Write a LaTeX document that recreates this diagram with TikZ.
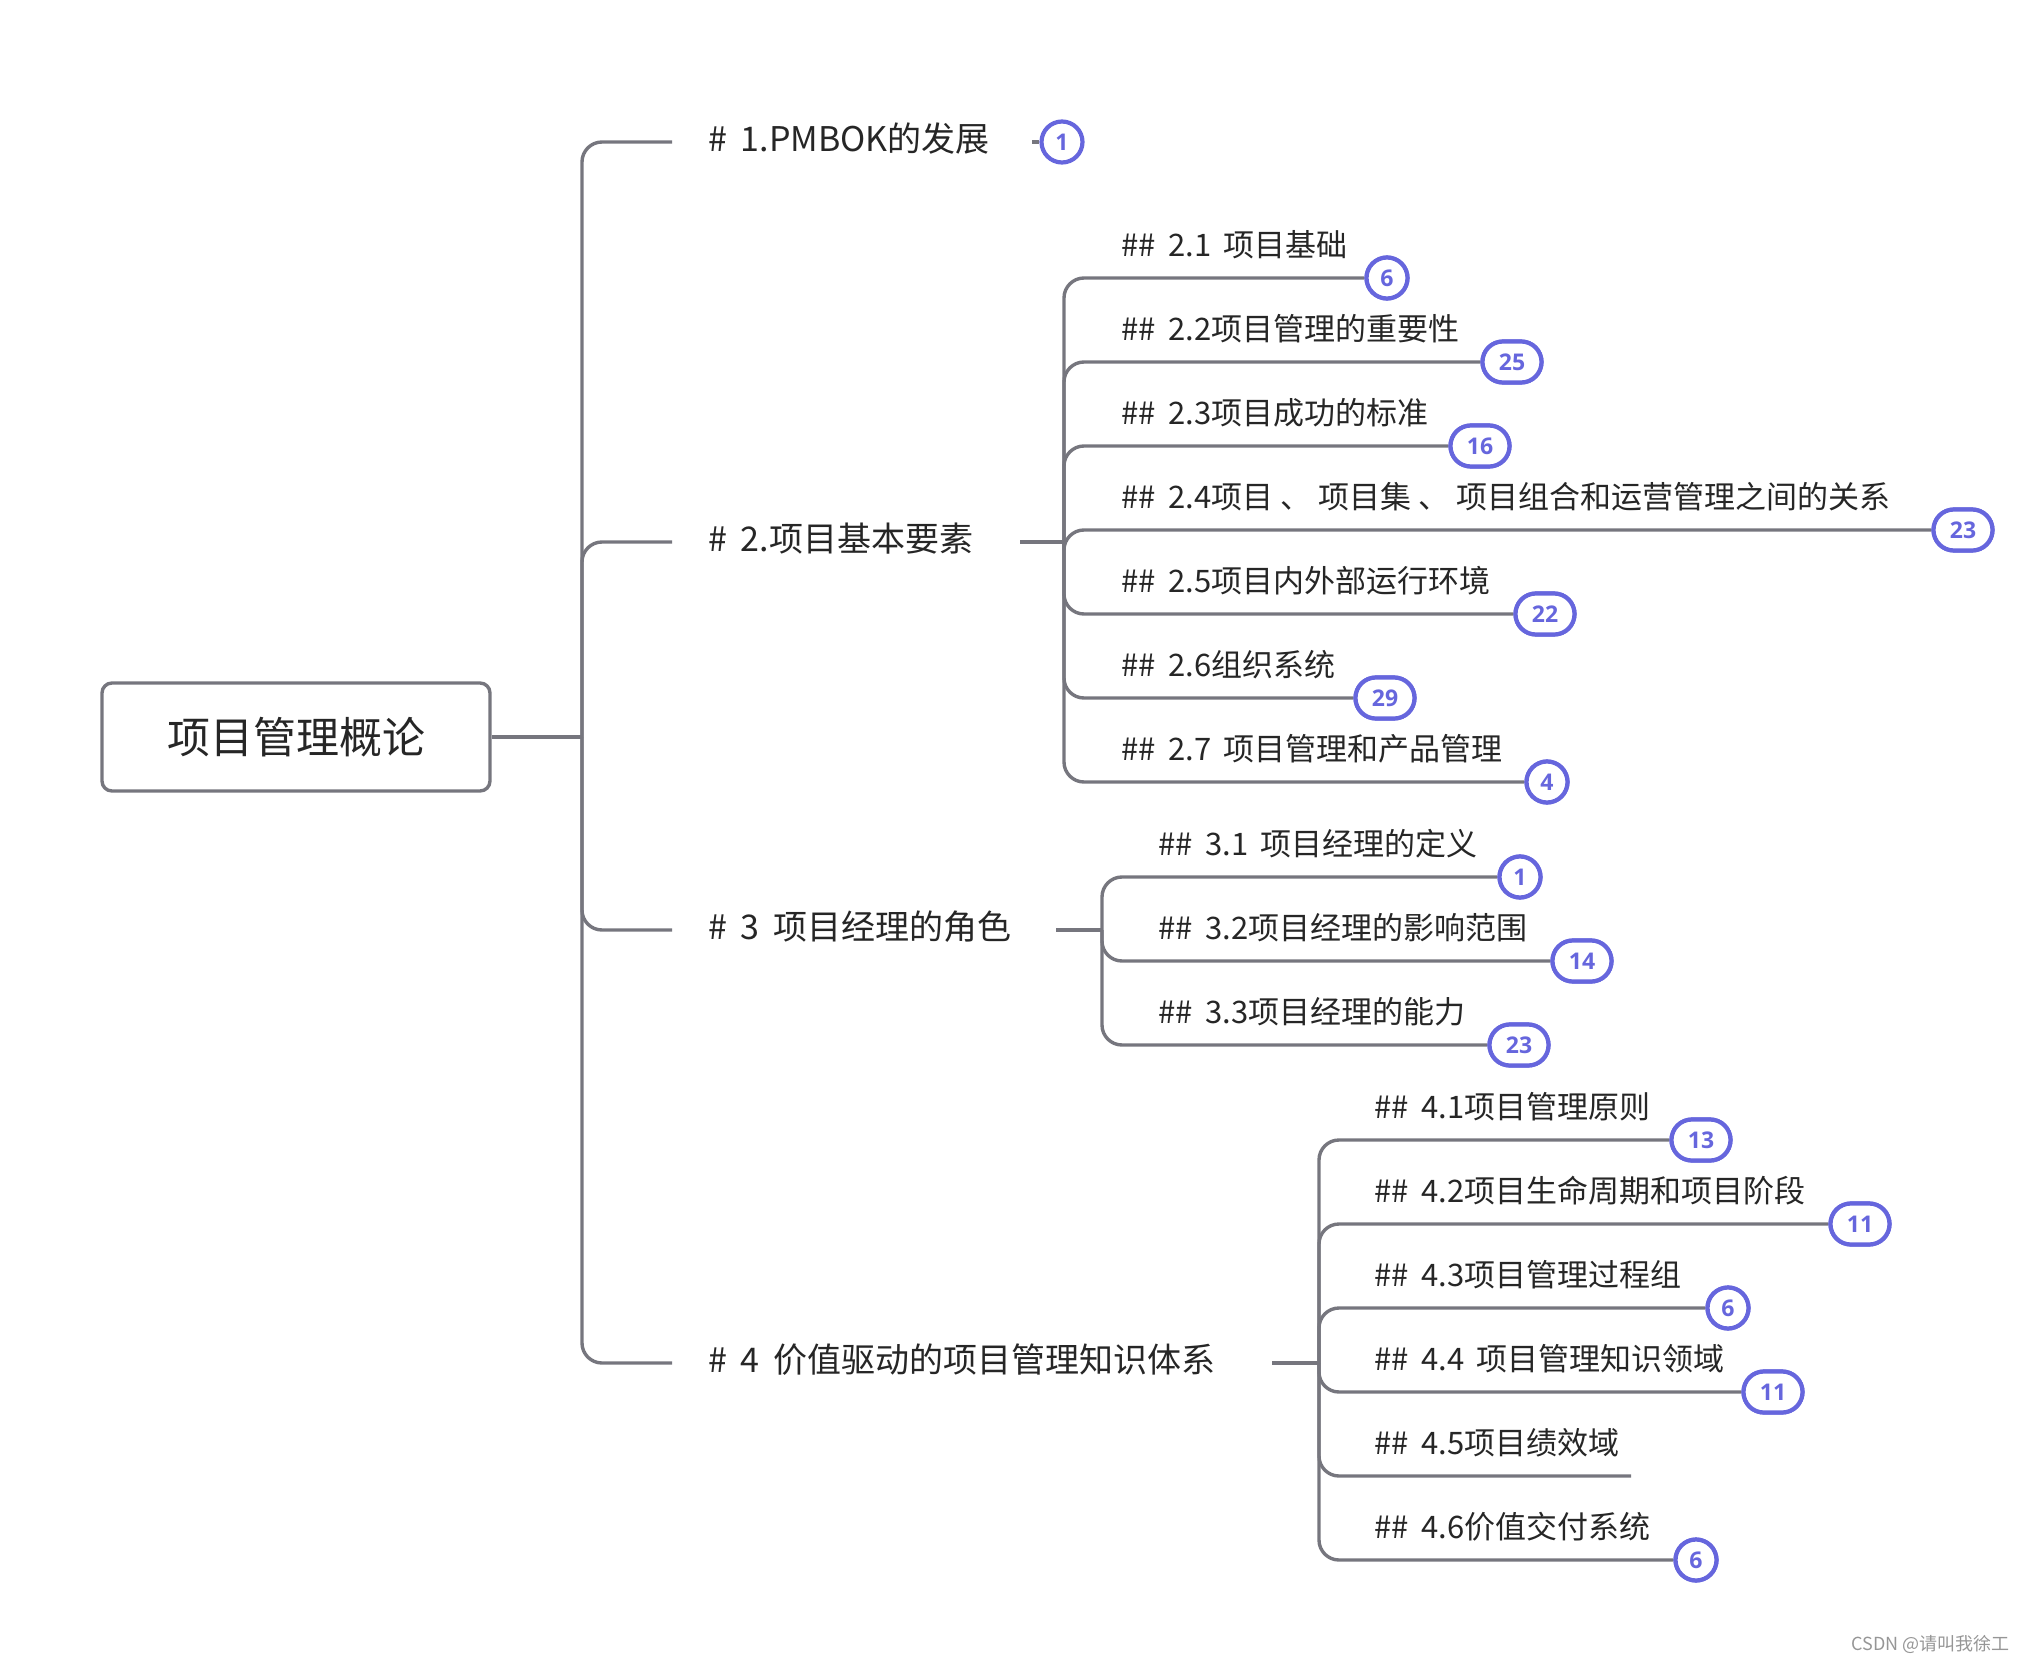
\documentclass[tikz,border=0pt]{standalone}
\usepackage{fontspec}
\setmainfont{Noto Sans CJK SC}
\newfontfamily\numfont{Open Sans}
\newcommand{\gapx}{\hspace{0.4em}}
\definecolor{ln}{RGB}{118,118,126}
\definecolor{bd}{RGB}{102,102,221}
\definecolor{tx}{RGB}{38,38,38}
\definecolor{wm}{RGB}{150,150,150}
\tikzset{
  conn/.style={draw=ln, line width=1.7pt, rounded corners=10pt},
  badge/.style={draw=bd, line width=2.1pt, fill=white, text=bd, inner sep=0pt,
    font=\numfont\bfseries\fontsize{11.5}{12}\selectfont},
  bcirc/.style={badge, circle, minimum size=20.5pt},
  boval/.style={badge, rectangle, rounded corners=10.2pt, minimum width=29.5pt, minimum height=20.5pt},
  lone/.style={anchor=west, inner sep=0pt, text=tx, font=\fontsize{17}{20}\selectfont},
  ltwo/.style={anchor=west, inner sep=0pt, text=tx, font=\fontsize{15.5}{18}\selectfont},
  rootbox/.style={draw=ln, line width=1.7pt, rounded corners=5pt, minimum width=194pt,
    minimum height=54pt, text=tx, font=\fontsize{21.5}{24}\selectfont}
}
\begin{document}
\begin{tikzpicture}[x=0.5pt,y=-0.5pt]
\useasboundingbox (0,0) rectangle (2025,1664);
% root
\node[rootbox] (root) at (296,737) {项目管理概论};
\coordinate (T) at (582,737);
\draw[conn] (root.east) -- (T);
% level-1 branch ends
\coordinate (a1) at (672,142);
\coordinate (a2) at (672,542);
\coordinate (a3) at (672,930);
\coordinate (a4) at (672,1363);
\foreach \c in {a1,a2,a3,a4} \draw[conn] (T) |- (\c);
% level-1 texts
\node[lone] (t1) at (708,139) {\#\gapx 1.PMBOK的发展};
\node[lone] (t2) at (708,539) {\#\gapx 2.项目基本要素};
\node[lone] (t3) at (708,927) {\#\gapx 3\gapx 项目经理的角色};
\node[lone] (t4) at (708,1360) {\#\gapx 4\gapx 价值驱动的项目管理知识体系};
% branch 1 badge
\node[bcirc] (n1) at (1062,142) {1};
\coordinate (c1) at (1032,142);
\draw[conn] (c1) -- (n1.west);
% sub-trunk starts
\coordinate (c2) at (1020,542);
\coordinate (S2) at (1064,542);
\coordinate (c3) at (1056,930);
\coordinate (S3) at (1102,930);
\coordinate (c4) at (1272,1363);
\coordinate (S4) at (1319,1363);
\draw[conn] (c2) -- (S2);
\draw[conn] (c3) -- (S3);
\draw[conn] (c4) -- (S4);
% ---- branch 2 children
\node[ltwo] (s21) at (1121,245) {\#\#\gapx 2.1\gapx 项目基础};
\node[ltwo] (s22) at (1121,329) {\#\#\gapx 2.2项目管理的重要性};
\node[ltwo] (s23) at (1121,413) {\#\#\gapx 2.3项目成功的标准};
\node[ltwo] (s24) at (1121,497) {\#\#\gapx 2.4项目 、 项目集 、 项目组合和运营管理之间的关系};
\node[ltwo] (s25) at (1121,581) {\#\#\gapx 2.5项目内外部运行环境};
\node[ltwo] (s26) at (1121,665) {\#\#\gapx 2.6组织系统};
\node[ltwo] (s27) at (1121,749) {\#\#\gapx 2.7\gapx 项目管理和产品管理};
\node[bcirc] (b21) at (1387,278) {6};
\node[boval] (b22) at (1512,362) {25};
\node[boval] (b23) at (1480,446) {16};
\node[boval] (b24) at (1963,530) {23};
\node[boval] (b25) at (1545,614) {22};
\node[boval] (b26) at (1385,698) {29};
\node[bcirc] (b27) at (1547,782) {4};
\foreach \b in {b21,b22,b23,b24,b25,b26,b27} \draw[conn] (S2) |- (\b.west);
% ---- branch 3 children
\node[ltwo] (s31) at (1158,844) {\#\#\gapx 3.1\gapx 项目经理的定义};
\node[ltwo] (s32) at (1158,928) {\#\#\gapx 3.2项目经理的影响范围};
\node[ltwo] (s33) at (1158,1012) {\#\#\gapx 3.3项目经理的能力};
\node[bcirc] (b31) at (1520,877) {1};
\node[boval] (b32) at (1582,961) {14};
\node[boval] (b33) at (1519,1045) {23};
\foreach \b in {b31,b32,b33} \draw[conn] (S3) |- (\b.west);
% ---- branch 4 children
\node[ltwo] (s41) at (1374,1107) {\#\#\gapx 4.1项目管理原则};
\node[ltwo] (s42) at (1374,1191) {\#\#\gapx 4.2项目生命周期和项目阶段};
\node[ltwo] (s43) at (1374,1275) {\#\#\gapx 4.3项目管理过程组};
\node[ltwo] (s44) at (1374,1359) {\#\#\gapx 4.4\gapx 项目管理知识领域};
\node[ltwo] (s45) at (1374,1443) {\#\#\gapx 4.5项目绩效域};
\node[ltwo] (s46) at (1374,1527) {\#\#\gapx 4.6价值交付系统};
\node[boval] (b41) at (1701,1140) {13};
\node[boval] (b42) at (1860,1224) {11};
\node[bcirc] (b43) at (1728,1308) {6};
\node[boval] (b44) at (1773,1392) {11};
\coordinate (e45) at (1631,1476);
\node[bcirc] (b46) at (1696,1560) {6};
\foreach \b in {b41,b42,b43,b44,b46} \draw[conn] (S4) |- (\b.west);
\draw[conn] (S4) |- (e45);
% redraw badges on top
\foreach \b/\t in {b21/6,b27/4,b31/1,b43/6,b46/6} \node[bcirc] at (\b) {\t};
\foreach \b/\t in {b22/25,b23/16,b24/23,b25/22,b26/29,b32/14,b33/23,b41/13,b42/11,b44/11} \node[boval] at (\b) {\t};
% watermark
\node[anchor=east, inner sep=0pt, text=wm, font=\fontsize{9}{10}\selectfont] (wmk) at (2010,1644) {CSDN @请叫我徐工};
\end{tikzpicture}
\end{document}
